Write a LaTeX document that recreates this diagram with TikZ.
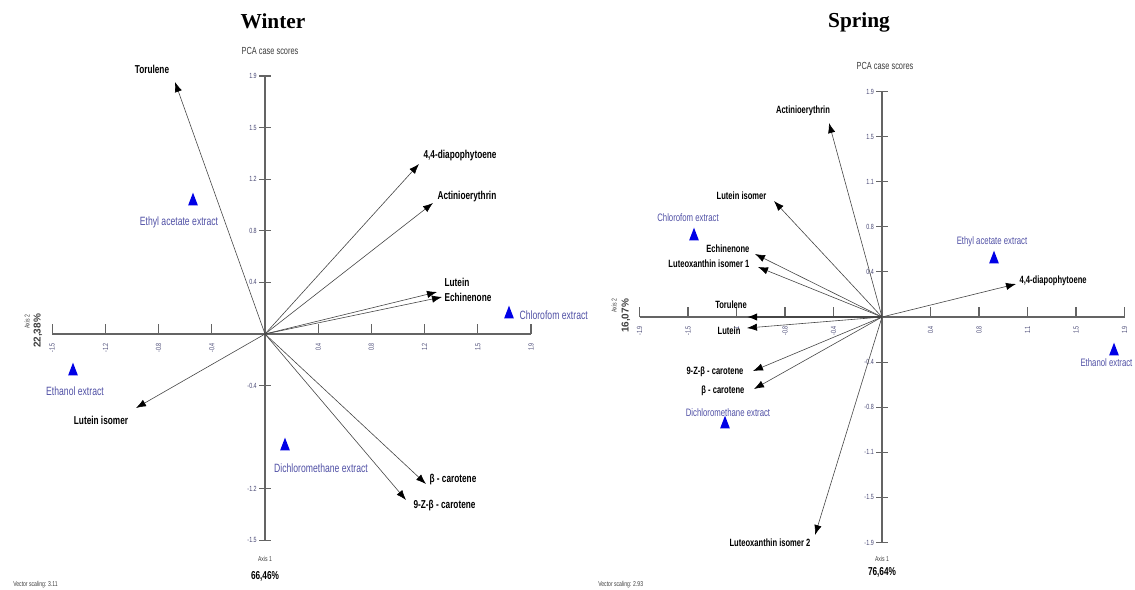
\documentclass[tikz,border=0pt]{standalone}
\usepackage{fontspec}
\setmainfont{Liberation Sans}
\newfontfamily\titlefont{Liberation Serif}
\newfontfamily\narrowfont[FakeStretch=0.72]{Liberation Sans}
\usetikzlibrary{arrows.meta}
\usetikzlibrary{shapes.geometric}

\definecolor{axisgray}{RGB}{100,100,100}
\definecolor{vecgray}{RGB}{70,70,70}
\definecolor{extrblue}{RGB}{80,80,165}
\definecolor{triblue}{RGB}{0,0,230}
\definecolor{ticklab}{RGB}{70,70,115}
\definecolor{textgray}{RGB}{60,60,60}

\begin{document}
\begin{tikzpicture}[x=0.75pt,y=-0.75pt,
	axis/.style={draw=axisgray, line width=0.8pt},
	vec/.style={draw=vecgray, line width=0.45pt, -{Latex[length=7.5pt,width=5.5pt,color=black]}},
	compW/.style={font=\narrowfont\bfseries\fontsize{8.6}{9}\selectfont, inner sep=1pt},
	compS/.style={font=\narrowfont\bfseries\fontsize{7.9}{9}\selectfont, inner sep=1pt},
	extrW/.style={font=\narrowfont\fontsize{9}{10}\selectfont, text=extrblue, inner sep=1pt},
	extrS/.style={font=\narrowfont\fontsize{8.1}{9}\selectfont, text=extrblue, inner sep=1pt},
	tri/.style={isosceles triangle, isosceles triangle apex angle=42, shape border rotate=90, fill=triblue, inner sep=0pt, minimum height=9.5pt},
	xtick/.style={rotate=90, anchor=east, font=\narrowfont\fontsize{5.6}{6}\selectfont, text=ticklab, inner sep=0pt},
	ytick/.style={anchor=east, font=\narrowfont\fontsize{5.6}{6}\selectfont, text=ticklab, inner sep=0pt},
	small/.style={font=\narrowfont\fontsize{5.3}{6}\selectfont, text=textgray, inner sep=0pt},
	pct/.style={font=\narrowfont\bfseries\fontsize{8.6}{9}\selectfont, inner sep=0pt},
	vpct/.style={rotate=90, font=\bfseries\fontsize{7.5}{8}\selectfont, text=textgray, inner sep=0pt},
	pca/.style={font=\narrowfont\fontsize{7.7}{9}\selectfont, text=textgray, inner sep=0pt},
	season/.style={font=\titlefont\bfseries\fontsize{16}{18}\selectfont, inner sep=0pt}]
	\useasboundingbox (0,0) rectangle (1135,589);

	%% Winter
	\node[season] (titleW) at (273,21) {Winter};
	\node[pca] (pcaW) at (270,51) {PCA case scores};
	\coordinate (O1) at (265,334);
	\begin{scope}[shift={(265,334)}]
		\draw[axis] (-4*53.2,0) -- (5*53.2,0);
		\draw[axis] (0,-5*51.6) -- (0,4*51.6);
		\foreach \i/\t in {-4/-1.5,-3/-1.2,-2/-0.8,-1/-0.4,1/0.4,2/0.8,3/1.2,4/1.5,5/1.9}{
			\draw[axis] (\i*53.2,0) -- ++(0,-10);
			\node[xtick] (wx\i) at (\i*53.2,9) {\t};
		}
		\foreach \i/\t in {5/1.9,4/1.5,3/1.2,2/0.8,1/0.4,-1/-0.4,-3/-1.2,-4/-1.5}{
			\draw[axis] (-6,-\i*51.6) -- (6,-\i*51.6);
			\node[ytick] (wy\i) at (-8,-\i*51.6) {\t};
		}
	\end{scope}
	\node[small] (axisW1) at (265,559) {Axis 1};
	\node[pct] (pctW1) at (265,576) {66,46\%};
	\node[small, rotate=90] (axisW2) at (27,322) {Axis 2};
	\node[vpct] (pctW2) at (38,331) {22,38\%};
	\node[small, anchor=west] (scaleW) at (13,585) {Vector scaling: 3.11};

	% compounds
	\coordinate (wTor) at (175,82);
	\coordinate (wDia) at (419,164);
	\coordinate (wAct) at (433,203);
	\coordinate (wLut) at (437,292);
	\coordinate (wEch) at (442,297);
	\coordinate (wLis) at (136,408);
	\coordinate (wBca) at (426,484);
	\coordinate (wZbc) at (406,500);
	\node[compW] (wTorL) at (152,69) {Torulene};
	\node[compW, anchor=west] (wDiaL) at (422,156) {4,4-diapophytoene};
	\node[compW, anchor=west] (wActL) at (436,197) {Actinioerythrin};
	\node[compW, anchor=west] (wLutL) at (443,282) {Lutein};
	\node[compW, anchor=west] (wEchL) at (443,297) {Echinenone};
	\node[compW] (wLisL) at (101,420) {Lutein isomer};
	\node[compW, anchor=west] (wBcaL) at (428,480) {β - carotene};
	\node[compW, anchor=west] (wZbcL) at (412,506) {9-Z-β - carotene};
	\foreach \v in {wTor,wDia,wAct,wLut,wEch,wLis,wBca,wZbc}
		\draw[vec] (O1) -- (\v);

	% extracts
	\node[tri] (wEth) at (193,202) {};
	\node[extrW] (wEthL) at (179,222) {Ethyl acetate extract};
	\node[tri] (wChl) at (509,315) {};
	\node[extrW, anchor=west] (wChlL) at (518,315) {Chlorofom extract};
	\node[tri] (wEtn) at (73,372) {};
	\node[extrW] (wEtnL) at (75,391) {Ethanol extract};
	\node[tri] (wDcm) at (285,447) {};
	\node[extrW] (wDcmL) at (321,468) {Dichloromethane extract};

	%% Spring
	\node[season] (titleS) at (859,22) {Spring};
	\node[pca] (pcaS) at (885,66) {PCA case scores};
	\coordinate (O2) at (882,317);
	\begin{scope}[shift={(882,317)}]
		\draw[axis] (-5*48.5,0) -- (5*48.5,0);
		\draw[axis] (0,-5*45.1) -- (0,5*45.1);
		\foreach \i/\t in {-5/-1.9,-4/-1.5,-3/-1,-2/-0.8,-1/-0.4,1/0.4,2/0.8,3/1.1,4/1.5,5/1.9}{
			\draw[axis] (\i*48.5,0) -- ++(0,-10);
			\node[xtick] (sx\i) at (\i*48.5,9) {\t};
		}
		\foreach \i/\t in {5/1.9,4/1.5,3/1.1,2/0.8,1/0.4,-1/-0.4,-2/-0.8,-3/-1.1,-4/-1.5,-5/-1.9}{
			\draw[axis] (-6,-\i*45.1) -- (6,-\i*45.1);
			\node[ytick] (sy\i) at (-8,-\i*45.1) {\t};
		}
	\end{scope}
	\node[small] (axisS1) at (882,559) {Axis 1};
	\node[pct] (pctS1) at (882,572) {76,64\%};
	\node[small, rotate=90] (axisS2) at (614,306) {Axis 2};
	\node[vpct] (pctS2) at (626,316) {16,07\%};
	\node[small, anchor=west] (scaleS) at (598,585) {Vector scaling: 2.93};

	% compounds
	\coordinate (sAct) at (829,123);
	\coordinate (sLis) at (774,201);
	\coordinate (sEch) at (755,254);
	\coordinate (sLx1) at (758,267);
	\coordinate (sTor) at (747,317);
	\coordinate (sLut) at (747,328);
	\coordinate (sZbc) at (753,371);
	\coordinate (sBca) at (754,389);
	\coordinate (sLx2) at (815,535);
	\coordinate (sDia) at (1016,284);
	\node[compS] (sActL) at (803,111) {Actinioerythrin};
	\node[compS, anchor=east] (sLisL) at (768,196) {Lutein isomer};
	\node[compS, anchor=east] (sEchL) at (751,249) {Echinenone};
	\node[compS, anchor=east] (sLx1L) at (751,264) {Luteoxanthin isomer 1};
	\node[compS] (sTorL) at (731,305) {Torulene};
	\node[compS] (sLutL) at (729,331) {Lutein};
	\node[compS, anchor=east] (sZbcL) at (745,372) {9-Z-β - carotene};
	\node[compS, anchor=east] (sBcaL) at (746,391) {β - carotene};
	\node[compS] (sLx2L) at (770,543) {Luteoxanthin isomer 2};
	\node[compS, anchor=west] (sDiaL) at (1018,281) {4,4-diapophytoene};
	\foreach \v in {sAct,sLis,sEch,sLx1,sLut,sZbc,sBca,sLx2,sDia}
		\draw[vec] (O2) -- (\v);
	\draw[vec, line width=1.1pt] (O2) -- (sTor);

	% extracts
	\node[tri] (sChl) at (694,237) {};
	\node[extrS] (sChlL) at (688,218) {Chlorofom extract};
	\node[tri] (sEth) at (994,260) {};
	\node[extrS] (sEthL) at (992,242) {Ethyl acetate extract};
	\node[tri] (sDcm) at (725,425) {};
	\node[extrS] (sDcmL) at (728,413) {Dichloromethane extract};
	\node[tri] (sEtn) at (1114,352) {};
	\node[extrS, anchor=east] (sEtnL) at (1134,363) {Ethanol extract};
\end{tikzpicture}
\end{document}
